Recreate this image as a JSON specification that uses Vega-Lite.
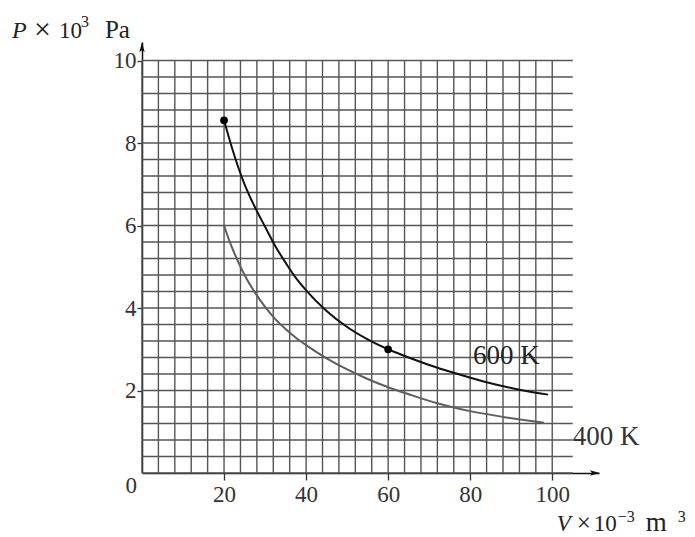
{
  "$schema": "https://vega.github.io/schema/vega-lite/v6.json",
  "width": 457,
  "height": 431,
  "autosize": {"type": "none"},
  "padding": {"left": 142, "top": 42, "right": 96, "bottom": 64},
  "background": "white",
  "config": {
    "view": {"stroke": null},
    "font": "Liberation Serif",
    "axisX": {"grid": false, "domain": true, "domainColor": "#111", "domainWidth": 1.5, "ticks": true, "tickSize": 7, "tickColor": "#333", "tickWidth": 1.3, "labelFont": "Liberation Serif", "labelFontSize": 23, "labelColor": "#333", "labelPadding": 3},
    "axisY": {"grid": false, "domain": true, "domainColor": "#111", "domainWidth": 1.5, "ticks": true, "tickSize": 5, "tickColor": "#333", "tickWidth": 1.3, "labelFont": "Liberation Serif", "labelFontSize": 23, "labelColor": "#333", "labelPadding": 1}
  },
  "datasets": {
    "vgrid": [{"v":0},{"v":4},{"v":8},{"v":12},{"v":16},{"v":20},{"v":24},{"v":28},{"v":32},{"v":36},{"v":40},{"v":44},{"v":48},{"v":52},{"v":56},{"v":60},{"v":64},{"v":68},{"v":72},{"v":76},{"v":80},{"v":84},{"v":88},{"v":92},{"v":96},{"v":100}],
    "hgrid": [{"p":0},{"p":0.4},{"p":0.8},{"p":1.2},{"p":1.6},{"p":2},{"p":2.4},{"p":2.8},{"p":3.2},{"p":3.6},{"p":4},{"p":4.4},{"p":4.8},{"p":5.2},{"p":5.6},{"p":6},{"p":6.4},{"p":6.8},{"p":7.2},{"p":7.6},{"p":8},{"p":8.4},{"p":8.8},{"p":9.2},{"p":9.6},{"p":10}],
    "curves": [
      {"T":"600 K","V":20,"P":8.55},{"T":"600 K","V":21,"P":8.2},{"T":"600 K","V":22,"P":7.86},{"T":"600 K","V":23.5,"P":7.4},{"T":"600 K","V":25,"P":7.0},{"T":"600 K","V":27.5,"P":6.45},{"T":"600 K","V":30,"P":5.97},{"T":"600 K","V":32.5,"P":5.5},{"T":"600 K","V":35,"P":5.1},{"T":"600 K","V":37.5,"P":4.73},{"T":"600 K","V":40,"P":4.43},{"T":"600 K","V":45,"P":3.93},{"T":"600 K","V":50,"P":3.54},{"T":"600 K","V":55,"P":3.24},{"T":"600 K","V":60,"P":3.0},{"T":"600 K","V":65,"P":2.8},{"T":"600 K","V":70,"P":2.62},{"T":"600 K","V":76,"P":2.43},{"T":"600 K","V":84,"P":2.2},{"T":"600 K","V":92,"P":2.02},{"T":"600 K","V":99,"P":1.9},
      {"T":"400 K","V":20,"P":6.0},{"T":"400 K","V":21,"P":5.71},{"T":"400 K","V":22,"P":5.45},{"T":"400 K","V":23.5,"P":5.11},{"T":"400 K","V":25,"P":4.8},{"T":"400 K","V":27.5,"P":4.38},{"T":"400 K","V":30,"P":4.03},{"T":"400 K","V":32.5,"P":3.73},{"T":"400 K","V":35,"P":3.49},{"T":"400 K","V":37.5,"P":3.28},{"T":"400 K","V":40,"P":3.1},{"T":"400 K","V":45,"P":2.78},{"T":"400 K","V":50,"P":2.51},{"T":"400 K","V":55,"P":2.28},{"T":"400 K","V":60,"P":2.08},{"T":"400 K","V":65,"P":1.91},{"T":"400 K","V":72,"P":1.69},{"T":"400 K","V":80,"P":1.5},{"T":"400 K","V":88,"P":1.36},{"T":"400 K","V":98,"P":1.22}
    ],
    "dots": [{"V":20,"P":8.55},{"V":60,"P":3.0}],
    "one": [{}]
  },
  "layer": [
    {
      "data": {"name": "vgrid"},
      "mark": {"type": "rule", "color": "#555555", "strokeWidth": 1.4},
      "encoding": {
        "x": {"field": "v", "type": "quantitative", "scale": {"domain": [0, 111.4], "nice": false, "zero": false}, "axis": {"values": [20, 40, 60, 80, 100], "title": null}},
        "y": {"datum": 0, "type": "quantitative", "scale": {"domain": [0, 10.45], "nice": false, "zero": false}, "axis": {"values": [2, 4, 6, 8, 10], "title": null}},
        "y2": {"datum": 10}
      }
    },
    {
      "data": {"name": "hgrid"},
      "mark": {"type": "rule", "color": "#555555", "strokeWidth": 1.4},
      "encoding": {
        "y": {"field": "p", "type": "quantitative", "scale": {"domain": [0, 10.45], "nice": false, "zero": false}, "axis": {"values": [2, 4, 6, 8, 10], "title": null}},
        "x": {"datum": 0, "type": "quantitative", "scale": {"domain": [0, 111.4], "nice": false, "zero": false}, "axis": {"values": [20, 40, 60, 80, 100], "title": null}},
        "x2": {"datum": 105}
      }
    },
    {
      "data": {"name": "curves"},
      "mark": {"type": "line", "interpolate": "monotone", "strokeWidth": 2},
      "encoding": {
        "x": {"field": "V", "type": "quantitative", "scale": {"domain": [0, 111.4], "nice": false, "zero": false}, "axis": {"values": [20, 40, 60, 80, 100], "title": null}},
        "y": {"field": "P", "type": "quantitative", "scale": {"domain": [0, 10.45], "nice": false, "zero": false}, "axis": {"values": [2, 4, 6, 8, 10], "title": null}},
        "color": {"field": "T", "type": "nominal", "scale": {"domain": ["600 K", "400 K"], "range": ["#111111", "#5e5e5e"]}, "legend": null},
        "detail": {"field": "T"}
      }
    },
    {
      "data": {"name": "dots"},
      "mark": {"type": "point", "filled": true, "shape": "circle", "size": 60, "color": "#000", "opacity": 1},
      "encoding": {
        "x": {"field": "V", "type": "quantitative", "scale": {"domain": [0, 111.4], "nice": false, "zero": false}, "axis": {"values": [20, 40, 60, 80, 100], "title": null}},
        "y": {"field": "P", "type": "quantitative", "scale": {"domain": [0, 10.45], "nice": false, "zero": false}, "axis": {"values": [2, 4, 6, 8, 10], "title": null}}
      }
    },
    {
      "data": {"name": "one"},
      "mark": {"type": "point", "filled": true, "shape": "M0,-1L0.45,0.7L0,0.35L-0.45,0.7Z", "size": 144, "color": "#111", "opacity": 1},
      "encoding": {
        "x": {"datum": 0, "type": "quantitative", "scale": {"domain": [0, 111.4], "nice": false, "zero": false}, "axis": {"values": [20, 40, 60, 80, 100], "title": null}},
        "y": {"datum": 10.305, "type": "quantitative", "scale": {"domain": [0, 10.45], "nice": false, "zero": false}, "axis": {"values": [2, 4, 6, 8, 10], "title": null}}
      }
    },
    {
      "data": {"name": "one"},
      "mark": {"type": "point", "filled": true, "shape": "M1,0L-0.7,-0.45L-0.35,0L-0.7,0.45Z", "size": 144, "color": "#111", "opacity": 1},
      "encoding": {
        "x": {"datum": 110.2, "type": "quantitative", "scale": {"domain": [0, 111.4], "nice": false, "zero": false}, "axis": {"values": [20, 40, 60, 80, 100], "title": null}},
        "y": {"datum": 0, "type": "quantitative", "scale": {"domain": [0, 10.45], "nice": false, "zero": false}, "axis": {"values": [2, 4, 6, 8, 10], "title": null}}
      }
    },
    {
      "data": {"name": "one"},
      "layer": [
        {"mark": {"type": "text", "text": "0", "font": "Liberation Serif", "fontSize": 23, "color": "#333", "align": "right", "baseline": "alphabetic", "dx": -5, "dy": 20},
         "encoding": {"x": {"datum": 0, "type": "quantitative"}, "y": {"datum": 0, "type": "quantitative"}}},
        {"mark": {"type": "text", "text": "600 K", "font": "Liberation Serif", "fontSize": 27, "color": "#222", "align": "left", "baseline": "alphabetic"},
         "encoding": {"x": {"datum": 80.7, "type": "quantitative"}, "y": {"datum": 2.636, "type": "quantitative"}}},
        {"mark": {"type": "text", "text": "400 K", "font": "Liberation Serif", "fontSize": 27, "color": "#333", "align": "left", "baseline": "alphabetic"},
         "encoding": {"x": {"datum": 105.0, "type": "quantitative"}, "y": {"datum": 0.679, "type": "quantitative"}}},
        {"mark": {"type": "text", "text": "P", "font": "Liberation Serif", "fontStyle": "italic", "fontSize": 24, "color": "#222", "align": "left", "baseline": "alphabetic", "dx": 0},
         "encoding": {"x": {"datum": -31.7, "type": "quantitative"}, "y": {"datum": 10.555, "type": "quantitative"}}},
        {"mark": {"type": "text", "text": "×", "font": "Liberation Serif", "fontSize": 30, "color": "#222", "align": "left", "baseline": "alphabetic", "dx": 22, "dy": 1},
         "encoding": {"x": {"datum": -31.7, "type": "quantitative"}, "y": {"datum": 10.555, "type": "quantitative"}}},
        {"mark": {"type": "text", "text": "10", "font": "Liberation Serif", "fontSize": 23, "color": "#222", "align": "left", "baseline": "alphabetic", "dx": 47},
         "encoding": {"x": {"datum": -31.7, "type": "quantitative"}, "y": {"datum": 10.555, "type": "quantitative"}}},
        {"mark": {"type": "text", "text": "3", "font": "Liberation Serif", "fontSize": 16, "color": "#222", "align": "left", "baseline": "alphabetic", "dx": 69, "dy": -11},
         "encoding": {"x": {"datum": -31.7, "type": "quantitative"}, "y": {"datum": 10.555, "type": "quantitative"}}},
        {"mark": {"type": "text", "text": "Pa", "font": "Liberation Serif", "fontSize": 25, "color": "#222", "align": "left", "baseline": "alphabetic", "dx": 93},
         "encoding": {"x": {"datum": -31.7, "type": "quantitative"}, "y": {"datum": 10.555, "type": "quantitative"}}},
        {"mark": {"type": "text", "text": "V", "font": "Liberation Serif", "fontStyle": "italic", "fontSize": 23, "color": "#222", "align": "left", "baseline": "alphabetic", "dx": -2},
         "encoding": {"x": {"datum": 101.6, "type": "quantitative"}, "y": {"datum": -1.4, "type": "quantitative"}}},
        {"mark": {"type": "text", "text": "×", "font": "Liberation Serif", "fontSize": 25, "color": "#222", "align": "left", "baseline": "alphabetic", "dx": 18},
         "encoding": {"x": {"datum": 101.6, "type": "quantitative"}, "y": {"datum": -1.4, "type": "quantitative"}}},
        {"mark": {"type": "text", "text": "10", "font": "Liberation Serif", "fontSize": 23, "color": "#222", "align": "left", "baseline": "alphabetic", "dx": 35},
         "encoding": {"x": {"datum": 101.6, "type": "quantitative"}, "y": {"datum": -1.4, "type": "quantitative"}}},
        {"mark": {"type": "text", "text": "−3", "font": "Liberation Serif", "fontSize": 16, "color": "#222", "align": "left", "baseline": "alphabetic", "dx": 59, "dy": -9},
         "encoding": {"x": {"datum": 101.6, "type": "quantitative"}, "y": {"datum": -1.4, "type": "quantitative"}}},
        {"mark": {"type": "text", "text": "m", "font": "Liberation Serif", "fontSize": 27, "color": "#222", "align": "left", "baseline": "alphabetic", "dx": 87},
         "encoding": {"x": {"datum": 101.6, "type": "quantitative"}, "y": {"datum": -1.4, "type": "quantitative"}}},
        {"mark": {"type": "text", "text": "3", "font": "Liberation Serif", "fontSize": 16, "color": "#222", "align": "left", "baseline": "alphabetic", "dx": 119, "dy": -9},
         "encoding": {"x": {"datum": 101.6, "type": "quantitative"}, "y": {"datum": -1.4, "type": "quantitative"}}}
      ]
    }
  ]
}
